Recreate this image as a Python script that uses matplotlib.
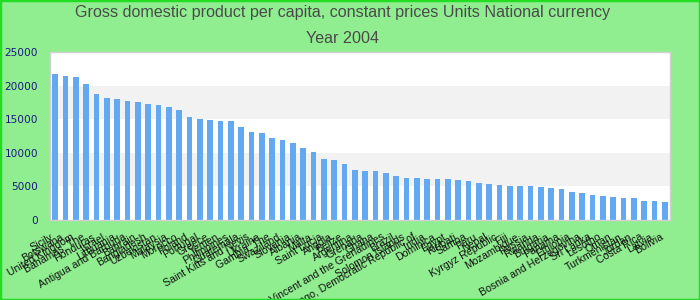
import matplotlib
matplotlib.use("Agg")
import matplotlib.pyplot as plt
from matplotlib.patches import Rectangle
from matplotlib.transforms import ScaledTranslation

title = "Gross domestic product per capita, constant prices Units National currency\nYear 2004"

countries = [
    "Sicily", "Botswana", "United Kingdom", "Bahamas, The", "Honduras", "Israel",
    "Lithuania", "Antigua and Barbuda", "Bahrain", "Bangladesh", "Uzbekistan",
    "Malaysia", "Morocco", "Poland", "Portugal", "Greece", "Yemen", "Philippines",
    "Guatemala", "Saint Kitts and Nevis", "Ukraine", "Gambia, The", "Swaziland",
    "Slovenia", "Albania", "Malta", "Saint Lucia", "Angola", "Belize", "Argentina",
    "Grenada", "Ghana", "Saint Vincent and the Grenadines", "Brazil",
    "Solomon Islands", "Congo, Democratic Republic of", "India", "Dominica",
    "Egypt", "Kiribati", "Samoa", "Peru", "Nepal", "Kyrgyz Republic", "Fiji",
    "Mozambique", "Russia", "Rwanda", "Bulgaria", "Panama", "Ethiopia",
    "Bosnia and Herzegovina", "Sri Lanka", "Lesotho", "Oman", "Turkmenistan",
    "Jordan", "Costa Rica", "Latvia", "Bolivia",
]

values = [
    21680, 21390, 21240, 20250, 18710, 18120, 17970, 17670, 17530, 17230,
    17080, 16780, 16340, 15300, 15000, 14850, 14700, 14700, 13810, 13070,
    12920, 12180, 11880, 11440, 10690, 10100, 9060, 8910, 8320, 7430,
    7280, 7280, 6980, 6540, 6240, 6240, 6090, 6090, 6090, 5940,
    5790, 5500, 5350, 5200, 5050, 5050, 5050, 4900, 4750, 4600,
    4160, 4010, 3710, 3560, 3420, 3270, 3270, 2820, 2820, 2670,
]

yticks = [0, 5000, 10000, 15000, 20000, 25000]

fig = plt.figure(figsize=(7, 3), dpi=100)
fig.patch.set_facecolor("#90ee90")
fig.patches.append(Rectangle((0, 0), 1, 1, transform=fig.transFigure, fill=False,
                             edgecolor="#22dd22", linewidth=2.5, zorder=10))

ax = fig.add_axes([50 / 700, 80 / 300, 620 / 700, 168 / 300])
ax.set_facecolor("white")
for lo, hi in [(5000, 10000), (15000, 20000)]:
    ax.axhspan(lo, hi, color="#f2f2f2", zorder=0, lw=0)

x = list(range(len(values)))
ax.bar(x, values, width=0.58, color="#62a9f2", zorder=2)
ax.set_xlim(-0.5, len(values) - 0.5)
ax.set_ylim(0, 25000)
ax.set_yticks(yticks)
ax.set_yticklabels([str(v) for v in yticks], color="#1a1a80", fontsize=7.6,
                   family="DejaVu Sans")
ax.tick_params(axis="y", length=0, pad=8.5)
ax.set_xticks(x)
ax.set_xticklabels(countries, rotation=30, ha="right", rotation_mode="anchor",
                   fontsize=7.6, family="Liberation Sans", color="#111111")
ax.tick_params(axis="x", length=0, pad=7)
shift = ScaledTranslation(-5 / 100, -2 / 100, fig.dpi_scale_trans)
for lbl in ax.get_xticklabels():
    lbl.set_transform(lbl.get_transform() + shift)
for s in ax.spines.values():
    s.set_color("#d0d0d0")
    s.set_linewidth(1)

fig.text(0.49, 0.982, title, ha="center", va="top", fontsize=11.6,
         color="#4a4a4a", family="Liberation Sans", linespacing=1.85)

fig.savefig("out.png", dpi=100, facecolor=fig.get_facecolor())
